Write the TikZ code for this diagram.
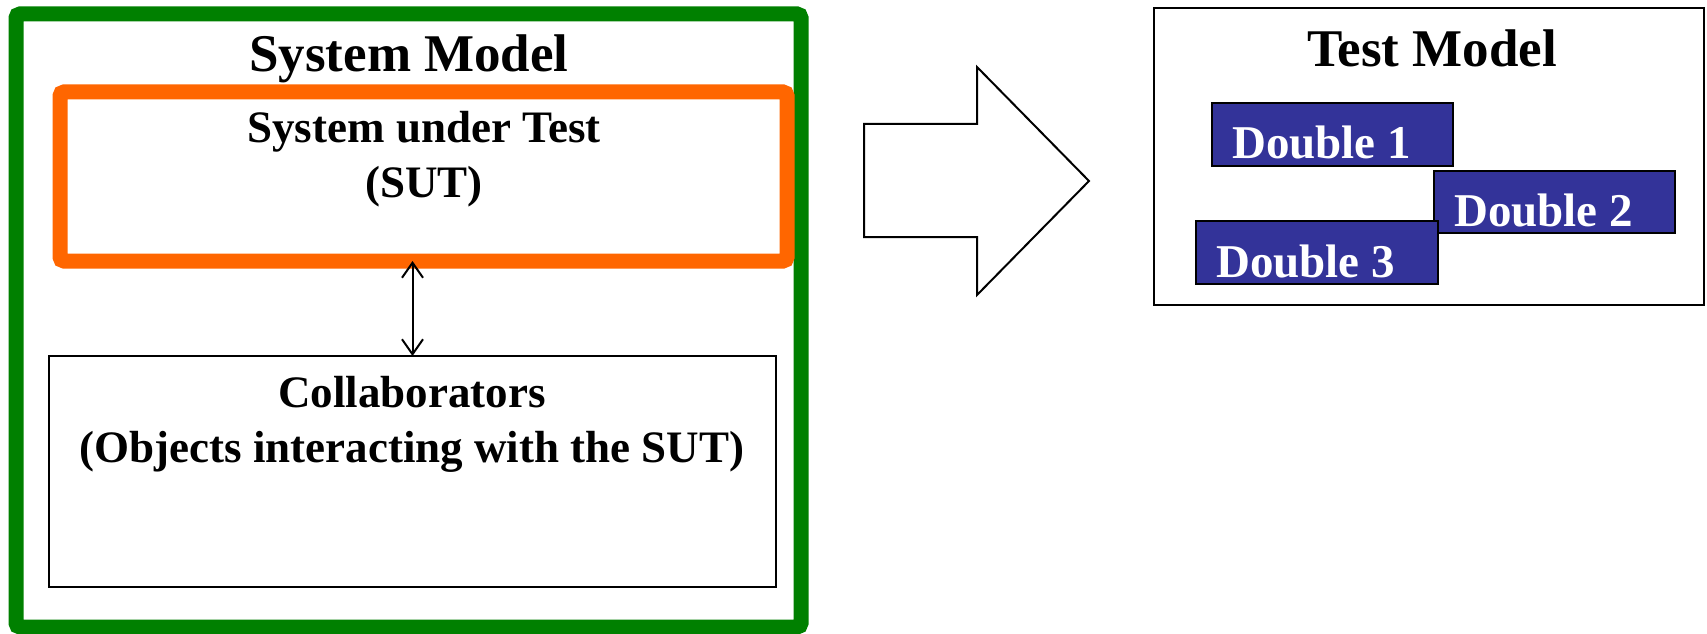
\documentclass[tikz,border=0pt]{standalone}
\usepackage{fontspec}
\setmainfont{Liberation Serif}
\usetikzlibrary{arrows.meta}
\definecolor{sysgreen}{RGB}{0,128,0}
\definecolor{sutorange}{RGB}{255,102,0}
\definecolor{dblue}{RGB}{51,51,153}
\tikzset{
  box/.style={draw=black, line width=2bp, fill=white, outer sep=0pt, inner sep=0pt, anchor=north west},
  bigtitle/.style={font=\fontsize{53bp}{60bp}\selectfont\bfseries, inner sep=0pt, anchor=base},
  midtext/.style={font=\fontsize{45bp}{54bp}\selectfont\bfseries, inner sep=0pt, anchor=base},
  dbox/.style={draw=black, line width=2bp, fill=dblue, outer sep=0pt, inner sep=0pt, anchor=north west},
  dtext/.style={font=\fontsize{47bp}{54bp}\selectfont\bfseries, text=white, inner sep=0pt, anchor=base west},
}
\begin{document}
\begin{tikzpicture}[x=1bp,y=-1bp]
\useasboundingbox[fill=white] (0,0) rectangle (1707,634);
% System model (green)
\node[draw=sysgreen, line width=15bp, rounded corners=4bp, outer sep=0pt, inner sep=0pt, anchor=north west,
      minimum width=785bp, minimum height=613bp] (sys) at (16,14) {};
\node[bigtitle] (systitle) at (409,72) {System Model};
% SUT (orange)
\node[draw=sutorange, line width=15bp, rounded corners=4bp, outer sep=0pt, inner sep=0pt, anchor=north west,
      minimum width=727bp, minimum height=169bp] (sut) at (60,92) {};
\node[midtext] (sutA) at (424,143) {System under Test};
\node[midtext] (sutB) at (424,198) {(SUT)};
% Collaborators
\node[box, minimum width=727bp, minimum height=231bp] (collab) at (49,356) {};
\node[midtext] (colA) at (412,407) {Collaborators};
\node[midtext] (colB) at (412,462) {(Objects interacting with the SUT)};
% double arrow
\draw[line width=2bp, {Straight Barb[length=15bp,width=21bp]}-{Straight Barb[length=15bp,width=21bp]}]
  (collab.north |- sut.south) -- (collab.north);
% Block arrow
\draw[line width=2bp, fill=white, line join=miter]
  (864,124) -- (977,124) -- (977,67) -- (1089,181) -- (977,295) -- (977,237) -- (864,237) -- cycle;
% Test model
\node[box, minimum width=550bp, minimum height=297bp] (test) at (1154,8) {};
\node[bigtitle] (testtitle) at (1432,67) {Test Model};
\node[dbox, minimum width=241bp, minimum height=63bp] (d1) at (1212,103) {};
\node[dtext] (d1t) at (1232,159) {Double 1};
\node[dbox, minimum width=241bp, minimum height=62bp] (d2) at (1434,171) {};
\node[dtext] (d2t) at (1454,227) {Double 2};
\node[dbox, minimum width=242bp, minimum height=63bp] (d3) at (1196,221) {};
\node[dtext] (d3t) at (1216,277) {Double 3};
\end{tikzpicture}
\end{document}
